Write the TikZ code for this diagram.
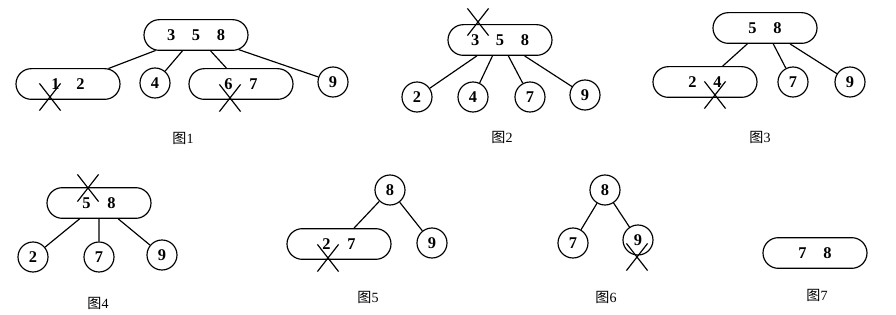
\documentclass[tikz,border=0pt]{standalone}
\usepackage{fontspec}
\setmainfont{Liberation Serif}
\newfontfamily\cjk{Noto Sans CJK SC}
\usetikzlibrary{shapes.misc}
\newcommand\kgap{\hspace{0.5cm}}

\begin{document}
\begin{tikzpicture}[x=0.03cm,y=-0.03cm,line width=1pt]
    \tikzset{
        keybox/.style={
            draw,rounded rectangle,inner sep=0pt,
            minimum width=3.12cm,minimum height=0.92cm,
            font=\fontsize{14}{16}\selectfont\bfseries
        },
        keyleaf/.style={
            draw,circle,inner sep=0pt,minimum size=0.9cm,
            font=\fontsize{14}{16}\selectfont\bfseries
        },
        delmark/.style={
            draw,cross out,inner sep=0pt,
            minimum width=0.6cm,minimum height=0.78cm
        },
        caption/.style={font=\fontsize{12}{14}\selectfont},
        link/.style={line width=1pt}
    }
    \useasboundingbox (0,0) rectangle (896,315);

    % 图1
    \node[keybox] (f1-root) at (196,35) {3\kgap5\kgap8};
    \node[keybox] (f1-a) at (68,84) {1\kgap2};
    \node[keyleaf] (f1-b) at (155,83) {4};
    \node[keybox] (f1-c) at (241,84) {6\kgap7};
    \node[keyleaf] (f1-d) at (333,82) {9};
    \node[delmark] (f1-x1) at (50,97) {};
    \node[delmark] (f1-x2) at (230,98) {};
    \node[caption] (f1-cap) at (183,138) {{\cjk 图}1};

    % 图2
    \node[keybox] (f2-root) at (500,40) {3\kgap5\kgap8};
    \node[keyleaf] (f2-a) at (417,97) {2};
    \node[keyleaf] (f2-b) at (473,97) {4};
    \node[keyleaf] (f2-c) at (530,97) {7};
    \node[keyleaf] (f2-d) at (585,95) {9};
    \node[delmark] (f2-x1) at (478,22) {};
    \node[caption] (f2-cap) at (502,137) {{\cjk 图}2};

    % 图3
    \node[keybox] (f3-root) at (765,28) {5\kgap8};
    \node[keybox] (f3-a) at (705,82) {2\kgap4};
    \node[keyleaf] (f3-b) at (793,82) {7};
    \node[keyleaf] (f3-c) at (850,82) {9};
    \node[delmark] (f3-x1) at (715,95) {};
    \node[caption] (f3-cap) at (760,137) {{\cjk 图}3};

    % 图4
    \node[keybox] (f4-root) at (99,203) {5\kgap8};
    \node[keyleaf] (f4-a) at (33,257) {2};
    \node[keyleaf] (f4-b) at (99,257) {7};
    \node[keyleaf] (f4-c) at (162,255) {9};
    \node[delmark] (f4-x1) at (88,188) {};
    \node[caption] (f4-cap) at (98,303) {{\cjk 图}4};

    % 图5
    \node[keyleaf] (f5-root) at (390,190) {8};
    \node[keybox] (f5-a) at (339,244) {2\kgap7};
    \node[keyleaf] (f5-b) at (432,243) {9};
    \node[delmark] (f5-x1) at (328,258) {};
    \node[caption] (f5-cap) at (368,297) {{\cjk 图}5};

    % 图6
    \node[keyleaf] (f6-root) at (605,190) {8};
    \node[keyleaf] (f6-a) at (573,243) {7};
    \node[keyleaf] (f6-b) at (638,240) {9};
    \node[delmark] (f6-x1) at (637,257) {};
    \node[caption] (f6-cap) at (606,297) {{\cjk 图}6};

    % 图7
    \node[keybox] (f7-root) at (815,253) {7\kgap8};
    \node[caption] (f7-cap) at (817,295) {{\cjk 图}7};

    \foreach \a/\b in {
        f1-root/f1-a,f1-root/f1-b,f1-root/f1-c,f1-root/f1-d,
        f2-root/f2-a,f2-root/f2-b,f2-root/f2-c,f2-root/f2-d,
        f3-root/f3-a,f3-root/f3-b,f3-root/f3-c,
        f4-root/f4-a,f4-root/f4-b,f4-root/f4-c,
        f5-root/f5-a,f5-root/f5-b,
        f6-root/f6-a,f6-root/f6-b}{
        \draw[link] (\a) -- (\b);
    }
\end{tikzpicture}
\end{document}
